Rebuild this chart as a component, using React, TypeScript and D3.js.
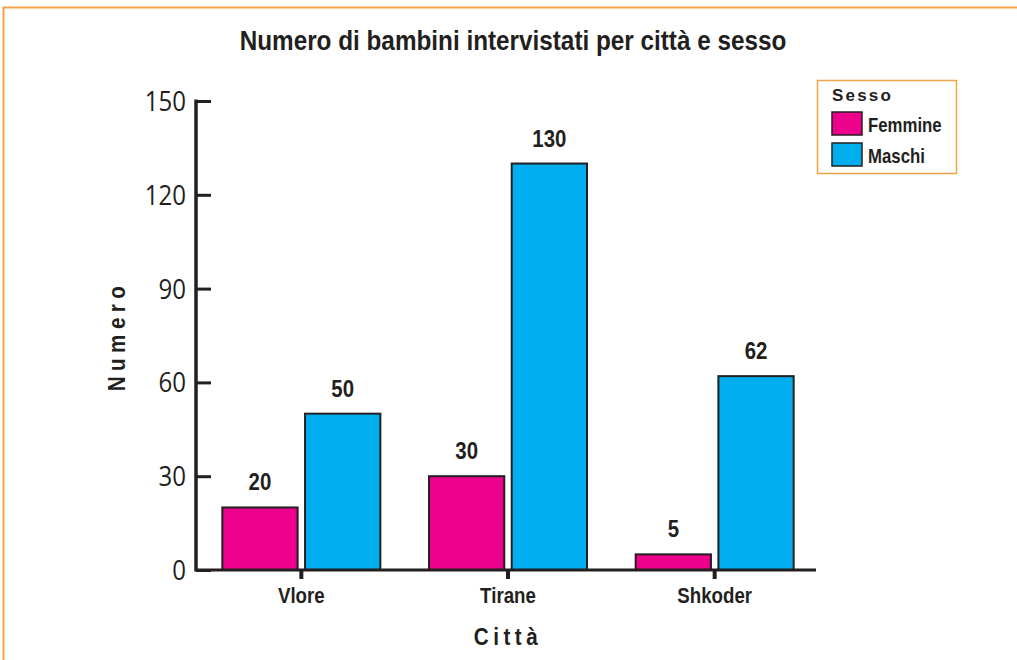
import React, { useEffect, useRef } from "react";
import * as d3 from "d3";

const cities = ["Vlore", "Tirane", "Shkoder"];
const femmine = [20, 30, 5];
const maschi = [50, 130, 62];
const series = ["Femmine", "Maschi"];
const yTicks = [0, 30, 60, 90, 120, 150];

const COLORS: Record<string, string> = { Femmine: "#EC008C", Maschi: "#00AEEF" };
const INK = "#231F20";
const ORANGE = "#F4A346";
const BOLD = "'Liberation Sans', Arial, sans-serif";
const PLAIN = "'Open Sans', 'Noto Sans', sans-serif";

const App = () => {
  const svgRef = useRef<SVGSVGElement>(null);

  useEffect(() => {
    const w = 1017;
    const h = 660;
    const svg = d3.select(svgRef.current).attr("width", w).attr("height", h);
    svg.selectAll("*").remove();

    // condensed bold text (squeezed horizontally)
    const cText = (
      parent: any,
      x: number,
      y: number,
      size: number,
      sx: number,
      txt: string | number,
      anchor = "middle"
    ) =>
      parent
        .append("text")
        .attr("transform", `translate(${x},${y}) scale(${sx},1)`)
        .attr("text-anchor", anchor)
        .attr("font-family", BOLD)
        .attr("font-weight", "bold")
        .attr("font-size", size)
        .attr("fill", INK)
        .text(txt);

    // frame
    svg
      .append("path")
      .attr("d", `M3.5,${h + 5} L3.5,7.5 L${w + 5},7.5`)
      .attr("fill", "none")
      .attr("stroke", ORANGE)
      .attr("stroke-width", 2);

    // title
    cText(svg, 513, 50, 27, 0.9, "Numero di bambini intervistati per città e sesso");

    const x0 = 196;
    const x1 = 816;
    const y = d3.scaleLinear().domain([0, 150]).range([570, 101]);
    const xBand = d3.scaleBand<string>().domain(cities).range([x0 + 2, x1 + 2]);
    const inner = d3
      .scaleBand<string>()
      .domain(series)
      .range([-79, 79])
      .paddingInner(0.09);

    const rows = cities.map((c, i) => ({ city: c, Femmine: femmine[i], Maschi: maschi[i] }));

    // bars
    const g = svg.append("g");
    rows.forEach((r) => {
      const cx = (xBand(r.city) ?? 0) + xBand.bandwidth() / 2;
      series.forEach((s) => {
        const v = (r as any)[s] as number;
        const bx = cx + (inner(s) ?? 0);
        g.append("rect")
          .attr("x", bx)
          .attr("y", y(v))
          .attr("width", inner.bandwidth())
          .attr("height", y(0) - y(v))
          .attr("fill", COLORS[s])
          .attr("stroke", INK)
          .attr("stroke-width", 2);
        cText(g, bx + inner.bandwidth() / 2, y(v) - 17, 24, 0.85, v);
      });
    });

    // y axis
    const yAxis = d3
      .axisRight(y)
      .tickValues(yTicks)
      .tickSize(15)
      .tickFormat(() => "");
    const ya = svg.append("g").attr("transform", `translate(${x0},0)`).call(yAxis);
    ya.select(".domain").remove();
    ya.selectAll(".tick line").attr("stroke", INK).attr("stroke-width", 3);
    svg
      .append("line")
      .attr("x1", x0)
      .attr("x2", x0)
      .attr("y1", y(150) - 1.5)
      .attr("y2", y(0) + 1.5)
      .attr("stroke", INK)
      .attr("stroke-width", 3.5);
    svg
      .selectAll(".ylab")
      .data(yTicks)
      .join("text")
      .attr("transform", (d) => `translate(186,${y(d) + 10}) scale(0.89,1)`)
      .attr("text-anchor", "end")
      .attr("font-family", PLAIN)
      .attr("font-size", 27)
      .attr("fill", INK)
      .text((d) => d);

    // x axis
    svg
      .append("line")
      .attr("x1", x0)
      .attr("x2", x1)
      .attr("y1", y(0))
      .attr("y2", y(0))
      .attr("stroke", INK)
      .attr("stroke-width", 3);
    const xAxis = d3.axisBottom(xBand).tickSize(9).tickFormat(() => "");
    const xa = svg.append("g").attr("transform", `translate(0,${y(0)})`).call(xAxis);
    xa.select(".domain").remove();
    xa.selectAll(".tick line").attr("stroke", INK).attr("stroke-width", 4);
    cities.forEach((c) => {
      cText(svg, (xBand(c) ?? 0) + xBand.bandwidth() / 2, 603, 22, 0.85, c);
    });

    // axis titles
    svg
      .append("text")
      .attr("transform", `translate(125,336) rotate(-90) scale(0.9,1)`)
      .attr("text-anchor", "middle")
      .attr("font-family", BOLD)
      .attr("font-weight", "bold")
      .attr("font-size", 23)
      .attr("letter-spacing", 6)
      .attr("fill", INK)
      .text("Numero");
    svg
      .append("text")
      .attr("transform", `translate(508,645) scale(0.9,1)`)
      .attr("text-anchor", "middle")
      .attr("font-family", BOLD)
      .attr("font-weight", "bold")
      .attr("font-size", 23)
      .attr("letter-spacing", 5)
      .attr("fill", INK)
      .text("Città");

    // legend
    const lg = svg.append("g");
    lg.append("rect")
      .attr("x", 817.5)
      .attr("y", 80.5)
      .attr("width", 139)
      .attr("height", 93)
      .attr("fill", "#fff")
      .attr("stroke", ORANGE)
      .attr("stroke-width", 1.5);
    lg.append("text")
      .attr("x", 832)
      .attr("y", 101)
      .attr("font-family", BOLD)
      .attr("font-weight", "bold")
      .attr("font-size", 17)
      .attr("letter-spacing", 2.2)
      .attr("fill", INK)
      .text("Sesso");
    series.forEach((s, i) => {
      lg.append("rect")
        .attr("x", 832)
        .attr("y", 112 + i * 31)
        .attr("width", 30)
        .attr("height", 23)
        .attr("fill", COLORS[s])
        .attr("stroke", INK)
        .attr("stroke-width", 1.5);
      cText(lg, 868, 132 + i * 31, 20, 0.84, s, "start");
    });
  }, []);

  return (
    <div style={{ position: "absolute", left: 0, top: 0, background: "#fff" }}>
      <svg ref={svgRef} style={{ display: "block" }}></svg>
    </div>
  );
};

export default App;
